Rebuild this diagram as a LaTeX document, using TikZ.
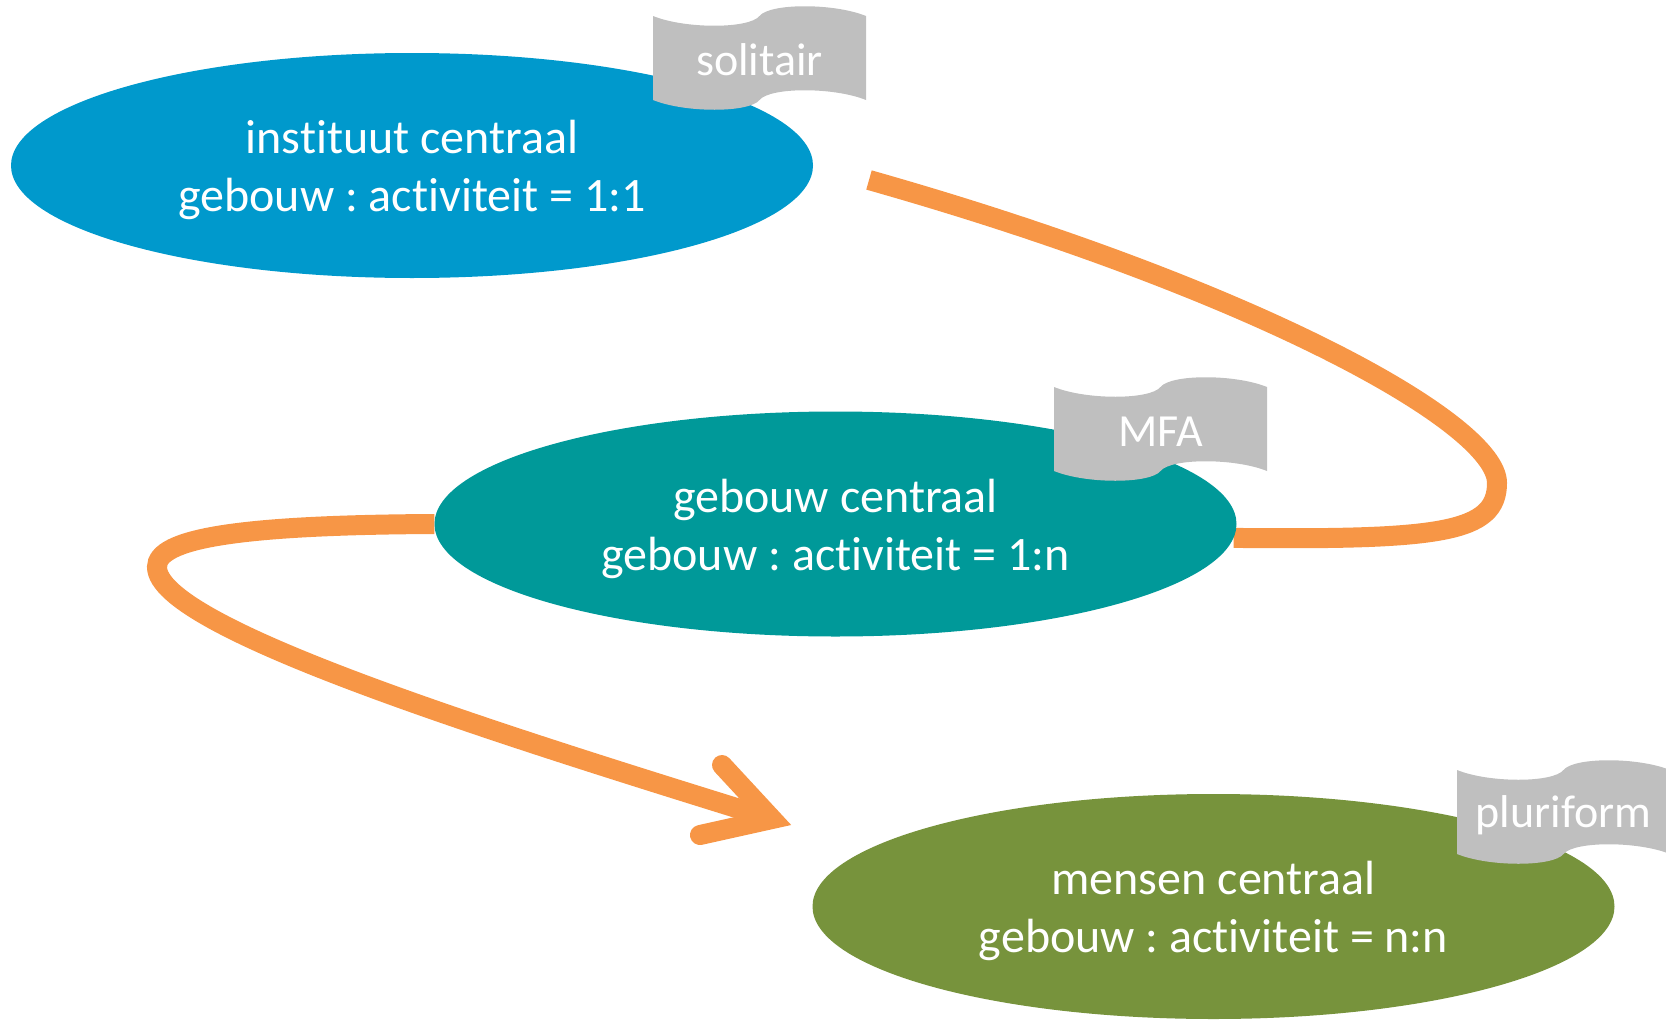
\documentclass[tikz,border=0pt]{standalone}
\usepackage{fontspec}
\setmainfont{Carlito}[Ligatures=NoCommon]
\frenchspacing
\usetikzlibrary{shapes.geometric,backgrounds}
\definecolor{instblue}{HTML}{0099CC}
\definecolor{bldteal}{HTML}{009999}
\definecolor{ppgreen}{HTML}{77933C}
\definecolor{bangrey}{HTML}{BFBFBF}
\definecolor{connorange}{HTML}{F79646}
\newcommand{\topstrut}{\rule{0pt}{43pt}}
\begin{document}
\begin{tikzpicture}[x=1pt,y=-1pt,
  ell/.style={ellipse, minimum width=802pt, minimum height=225pt, inner sep=0pt,
    text=white, align=center, font=\fontsize{48}{58}\selectfont},
  bannertext/.style={anchor=base, text=white, inner sep=0pt, font=\fontsize{46}{55}\selectfont},
  conn/.style={draw=connorange, line width=20pt},
  arm/.style={draw=connorange, line width=20pt, line cap=round, line join=miter},
  wave/.pic={
    \fill[bangrey] (0,0) .. controls (32,13) and (96,13) .. (106.5,0)
      .. controls (117,-13) and (181,-13) .. (213,0) -- (213,84)
      .. controls (181,71) and (117,71) .. (106.5,84)
      .. controls (96,97) and (32,97) .. (0,84) -- cycle;
  }
]
\useasboundingbox (0,0) rectangle (1666,1020);

% ellipses
\node[ell, fill=instblue] (e1) at (412,165.5) {\topstrut instituut centraal\\gebouw : activiteit = 1:1};
\node[ell, fill=bldteal] (e2) at (835.5,524) {\topstrut gebouw centraal\\gebouw : activiteit = 1:n};
\node[ell, fill=ppgreen] (e3) at (1213.5,906.5) {\topstrut mensen centraal\\gebouw : activiteit = n:n};

% banners
\pic at (653,16) {wave};
\node[bannertext] (b1) at (759.5,75) {solitair};
\pic at (1054,387) {wave};
\node[bannertext] (b2) at (1160.5,446) {MFA};
\pic at (1457,770) {wave};
\node[bannertext] (b3) at (1563.5,827) {pluriform};

% connectors
\coordinate (c1start) at (869,180);
\coordinate (c1turn) at (1497,483);
\coordinate (c2turn) at (157,567);
\coordinate (tipv) at (772,819);
\coordinate (armA) at (722,765);
\coordinate (armB) at (700,835);
\begin{pgfonlayer}{background}
\draw[conn] (c1start) .. controls (1254,289) and (1497,423) .. (c1turn)
  .. controls (1497,533) and (1440,540) .. (e2.-2);
\draw[conn] (e2.west) .. controls (235,525) and (157,539) .. (c2turn)
  .. controls (157,627) and (485.5,730.2) .. (tipv);
\end{pgfonlayer}
\draw[arm] (armA) -- (tipv) -- (armB);
\end{tikzpicture}
\end{document}
